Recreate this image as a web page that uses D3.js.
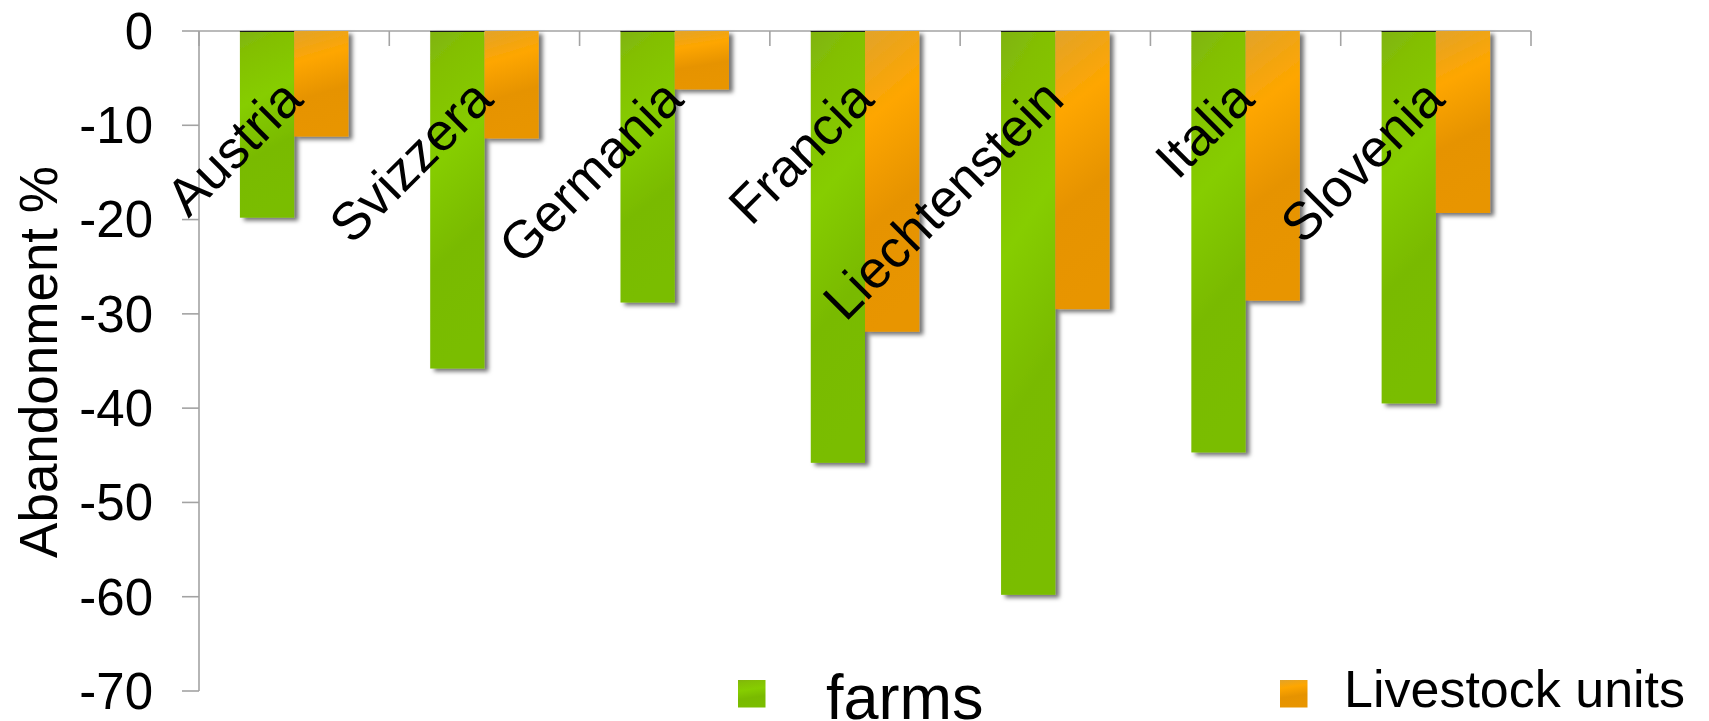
<!DOCTYPE html>
<html>
<head>
<meta charset="utf-8">
<script src="https://cdn.jsdelivr.net/npm/d3@7"></script>
<style>
  html, body { margin: 0; padding: 0; background: #fff; }
  svg { display: block; font-family: "Liberation Sans", Arial, sans-serif; }
</style>
</head>
<body>
<svg id="chart" width="1709" height="721"></svg>
<script>
// Country names on the category axis
const countries = ["Austria", "Svizzera", "Germania", "Francia", "Liechtenstein", "Italia", "Slovenia"];
// Series names (legend)
const seriesNames = ["farms", "Livestock units"];
// Abandonment % per country
const farms = [-19.8, -35.8, -28.8, -45.8, -59.8, -44.7, -39.5];
const livestockUnits = [-11.2, -11.4, -6.2, -31.9, -29.5, -28.6, -19.3];
// Y axis ticks
const yTicks = [0, -10, -20, -30, -40, -50, -60, -70];
const yTitle = "Abandonment %";

const svg = d3.select("#chart");
const axisColor = "#a3a3a3";

const plot = { left: 199, right: 1531, top: 31, bottom: 691 };

const y = d3.scaleLinear().domain([0, -70]).range([plot.top, plot.bottom]);
const x = d3.scaleBand().domain(countries).range([plot.left, plot.right])
  .paddingInner(0.43).paddingOuter(0.215);
const xs = d3.scaleBand().domain(seriesNames).range([0, x.bandwidth()]);

// Gradients and drop shadow
const defs = svg.append("defs");
const gGreen = defs.append("linearGradient").attr("id", "gradGreen")
  .attr("x1", 0).attr("y1", 0).attr("x2", 0.15).attr("y2", 1);
[[0, "#80b30c"], [0.12, "#83bf05"], [0.4, "#86cd00"], [0.7, "#79ba00"], [1, "#7abd00"]]
  .forEach(([o, c]) => gGreen.append("stop").attr("offset", o).attr("stop-color", c));
const gOrange = defs.append("linearGradient").attr("id", "gradOrange")
  .attr("x1", 0).attr("y1", 0).attr("x2", 0.15).attr("y2", 1);
[[0, "#e2a32a"], [0.3, "#fea600"], [0.65, "#e69300"], [1, "#e89500"]]
  .forEach(([o, c]) => gOrange.append("stop").attr("offset", o).attr("stop-color", c));
const shadow = defs.append("filter").attr("id", "shadow")
  .attr("x", "-10%").attr("y", "-10%").attr("width", "140%").attr("height", "130%");
shadow.append("feDropShadow").attr("dx", 4).attr("dy", 3).attr("stdDeviation", 2)
  .attr("flood-color", "#000").attr("flood-opacity", 0.55);

const fills = { "farms": "url(#gradGreen)", "Livestock units": "url(#gradOrange)" };

// Axes: left value axis and top category line at zero
const axisG = svg.append("g");
axisG.append("line")
  .attr("x1", plot.left).attr("x2", plot.left)
  .attr("y1", y(0)).attr("y2", y(-70))
  .attr("stroke", axisColor).attr("stroke-width", 1.6);

axisG.selectAll(".ytick").data(yTicks).join("line")
  .attr("x1", plot.left - 17).attr("x2", plot.left)
  .attr("y1", d => y(d)).attr("y2", d => y(d))
  .attr("stroke", axisColor).attr("stroke-width", 1.6);

axisG.append("line")
  .attr("x1", plot.left).attr("x2", plot.right)
  .attr("y1", y(0)).attr("y2", y(0))
  .attr("stroke", axisColor).attr("stroke-width", 1.6);

const boundaries = d3.range(countries.length + 1).map(i => plot.left + i * x.step());
axisG.selectAll(".xtick").data(boundaries).join("line")
  .attr("x1", d => d).attr("x2", d => d)
  .attr("y1", y(0)).attr("y2", y(0) + 15)
  .attr("stroke", axisColor).attr("stroke-width", 1.6);

// Tick labels
svg.append("g").selectAll("text").data(yTicks).join("text")
  .attr("x", plot.left - 17 - 29)
  .attr("y", d => y(d))
  .attr("dy", "0.35em")
  .attr("text-anchor", "end")
  .attr("font-size", 51)
  .attr("fill", "#000")
  .text(d => String(d));

// Axis title
svg.append("text")
  .attr("transform", `translate(57, ${(y(0) + y(-70)) / 2 + 1}) rotate(-90)`)
  .attr("text-anchor", "middle")
  .attr("font-size", 53)
  .attr("fill", "#000")
  .text(yTitle);

// Bars
const rows = countries.map((c, i) => ({ country: c, values: [
  { key: "farms", value: farms[i] },
  { key: "Livestock units", value: livestockUnits[i] }
]}));

const groups = svg.append("g").selectAll("g").data(rows).join("g")
  .attr("transform", d => `translate(${x(d.country)},0)`);

groups.selectAll("rect").data(d => d.values).join("rect")
  .attr("x", d => xs(d.key))
  .attr("y", y(0))
  .attr("width", xs.bandwidth())
  .attr("height", d => y(d.value) - y(0))
  .attr("fill", d => fills[d.key])
  .attr("filter", "url(#shadow)");

// Dark top edge on the farms bars
groups.append("line")
  .attr("x1", xs("farms")).attr("x2", xs("farms") + xs.bandwidth())
  .attr("y1", y(0) + 0.5).attr("y2", y(0) + 0.5)
  .attr("stroke", "#1a1a1a").attr("stroke-width", 1.2);

// Category labels, rotated
svg.append("g").selectAll("text").data(countries).join("text")
  .attr("transform", d => `translate(${x(d) + x.bandwidth() / 2 + 11}, 102) rotate(-45)`)
  .attr("text-anchor", "end")
  .attr("font-size", 53)
  .attr("fill", "#000")
  .text(d => d);

// Legend
const legendItems = [
  { key: seriesNames[0], mx: 738, tx: 826, ty: 718.5, size: 63 },
  { key: seriesNames[1], mx: 1280, tx: 1344, ty: 707, size: 52 }
];
const lg = svg.append("g");
lg.selectAll("rect").data(legendItems).join("rect")
  .attr("x", d => d.mx).attr("y", 680)
  .attr("width", 27.5).attr("height", 27.5)
  .attr("fill", d => fills[d.key]);
lg.selectAll("text").data(legendItems).join("text")
  .attr("x", d => d.tx).attr("y", d => d.ty)
  .attr("font-size", d => d.size)
  .attr("fill", "#000")
  .text(d => d.key);
</script>
</body>
</html>
